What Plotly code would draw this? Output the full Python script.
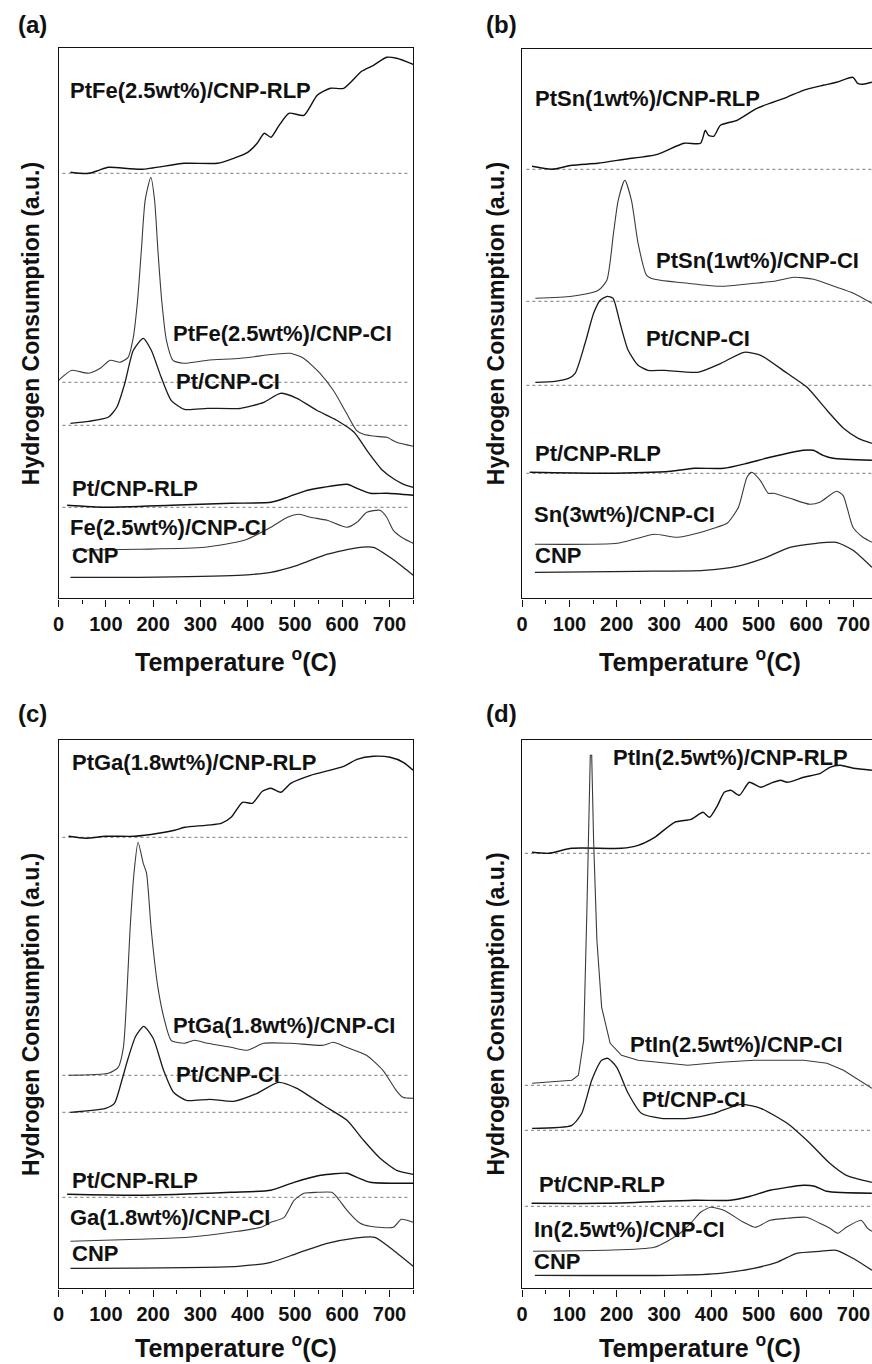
import plotly.graph_objects as go

# ---------------- data (temperature in °C, signal in a.u.) ----------------
# panel (a)
a_rlp_T = [25, 45, 64, 85, 105, 175, 266, 336, 370, 400, 420, 435, 449, 465, 487, 519, 547, 575, 603, 641, 666, 694, 715, 750]
a_rlp_H = [426, 425, 425, 428, 431, 429, 435, 435, 440, 446, 455, 465, 461, 472, 485, 483, 503, 510, 510, 527, 533, 541, 540, 534]
a_ci_T = [0, 28, 63, 88, 109, 130, 147, 158, 167, 175, 183, 195, 203, 210, 218, 228, 242, 266, 315, 385, 455, 490, 518, 553, 581, 609, 630, 645, 670, 694, 715, 750]
a_ci_H = [218, 228, 225, 230, 238, 236, 241, 261, 298, 348, 398, 421, 398, 348, 298, 258, 238, 235, 238, 240, 244, 245, 240, 225, 208, 185, 168, 164, 162, 161, 156, 152]
a_pt_T = [25, 64, 105, 123, 140, 158, 179, 196, 217, 238, 266, 315, 385, 434, 469, 504, 546, 588, 625, 655, 685, 710, 730, 750]
a_pt_H = [175, 177, 181, 191, 215, 248, 260, 248, 221, 198, 189, 190, 190, 196, 205, 200, 188, 178, 166, 146, 128, 119, 114, 111]
a_ptrlp_T = [18, 99, 239, 365, 449, 484, 519, 561, 610, 631, 659, 694, 750]
a_ptrlp_H = [93, 91, 93, 95, 96, 101, 107, 111, 114, 110, 105, 105, 103]
a_fe_T = [29, 169, 309, 393, 449, 484, 508, 533, 568, 610, 631, 652, 680, 694, 708, 729, 750]
a_fe_H = [48, 49, 51, 58, 71, 81, 84, 81, 78, 71, 76, 86, 88, 81, 68, 60, 55]
a_cnp_T = [25, 169, 379, 449, 505, 561, 624, 666, 701, 729, 750]
a_cnp_H = [21, 21, 23, 26, 33, 43, 50, 51, 41, 31, 23]
a_base = [425, 216, 173, 91]

# panel (b)
b_rlp_T = [21, 63, 105, 160, 216, 286, 342, 377, 387, 394, 405, 419, 454, 496, 559, 594, 636, 664, 699, 709, 720, 739]
b_rlp_H = [432, 429, 433, 435, 439, 444, 455, 455, 468, 463, 462, 473, 478, 490, 501, 508, 513, 516, 521, 515, 514, 516]
b_ci_T = [28, 105, 161, 179, 193, 203, 217, 231, 245, 263, 280, 350, 420, 490, 532, 574, 616, 665, 700, 739]
b_ci_H = [300, 302, 308, 318, 365, 398, 418, 398, 355, 323, 319, 315, 312, 315, 317, 321, 319, 311, 305, 295]
b_pt_T = [28, 69, 98, 112, 133, 151, 165, 180, 192, 207, 224, 245, 266, 301, 371, 420, 469, 504, 560, 602, 644, 679, 710, 739]
b_pt_H = [216, 217, 220, 225, 255, 285, 298, 302, 300, 275, 248, 233, 228, 228, 226, 235, 246, 243, 225, 211, 188, 170, 160, 155]
b_ptrlp_T = [16, 174, 314, 363, 426, 475, 524, 594, 615, 636, 657, 739]
b_ptrlp_H = [126, 125, 127, 130, 130, 135, 141, 148, 148, 143, 140, 138]
b_sn_T = [27, 202, 244, 279, 328, 370, 405, 433, 457, 475, 485, 503, 520, 531, 566, 608, 629, 664, 678, 699, 720, 739]
b_sn_H = [54, 55, 60, 64, 61, 65, 70, 75, 91, 121, 126, 118, 105, 105, 100, 94, 96, 107, 103, 71, 61, 56]
b_cnp_T = [27, 244, 384, 454, 510, 566, 622, 664, 699, 739]
b_cnp_H = [26, 27, 28, 32, 40, 51, 55, 56, 48, 31]
b_base = [429, 297, 213, 125]

# panel (c)
c_rlp_T = [21, 57, 99, 161, 211, 245, 267, 344, 365, 389, 410, 431, 449, 470, 491, 533, 603, 631, 666, 701, 729, 750]
c_rlp_H = [452, 450, 452, 452, 455, 458, 461, 465, 471, 486, 485, 497, 500, 496, 505, 513, 522, 529, 532, 531, 526, 518]
c_ci_T = [21, 105, 126, 137, 144, 151, 160, 168, 179, 186, 196, 210, 224, 238, 266, 287, 315, 364, 399, 434, 490, 560, 581, 609, 651, 686, 714, 728, 750]
c_ci_H = [213, 215, 221, 241, 291, 358, 418, 446, 425, 415, 358, 301, 268, 248, 245, 248, 245, 241, 238, 245, 245, 243, 246, 241, 233, 218, 198, 191, 190]
c_pt_T = [25, 99, 118, 132, 147, 163, 180, 200, 222, 243, 270, 320, 370, 420, 465, 504, 560, 610, 645, 680, 715, 750]
c_pt_H = [176, 180, 185, 205, 230, 252, 262, 250, 218, 196, 188, 189, 187, 195, 206, 200, 183, 168, 148, 130, 118, 114]
c_ptrlp_T = [18, 169, 365, 449, 498, 554, 610, 631, 659, 750]
c_ptrlp_H = [94, 93, 96, 98, 106, 113, 115, 111, 106, 105]
c_ga_T = [25, 169, 274, 379, 428, 449, 477, 498, 519, 547, 578, 589, 610, 638, 659, 708, 725, 750]
c_ga_H = [47, 49, 51, 57, 61, 66, 71, 88, 95, 96, 96, 91, 78, 65, 62, 61, 69, 66]
c_cnp_T = [25, 379, 449, 505, 568, 624, 669, 708, 750]
c_cnp_H = [20, 22, 26, 35, 45, 50, 51, 38, 22]
c_base = [451, 213, 176, 91]

# panel (d)
d_rlp_T = [21, 56, 105, 210, 245, 280, 322, 357, 382, 396, 413, 427, 441, 459, 480, 504, 525, 546, 560, 595, 630, 650, 672, 700, 739]
d_rlp_H = [436, 435, 440, 440, 443, 451, 466, 469, 476, 471, 483, 496, 498, 493, 506, 501, 505, 508, 506, 511, 515, 521, 523, 520, 518]
d_ci_T = [21, 105, 119, 130, 137, 142, 144, 147, 151, 158, 168, 186, 210, 245, 350, 420, 490, 595, 644, 679, 713, 739]
d_ci_H = [205, 208, 213, 248, 381, 498, 533, 533, 448, 348, 281, 245, 233, 228, 223, 226, 228, 228, 225, 218, 208, 200]
d_pt_T = [21, 105, 126, 147, 168, 181, 200, 224, 252, 294, 350, 406, 462, 504, 560, 608, 650, 685, 739]
d_pt_H = [160, 163, 175, 208, 228, 230, 221, 195, 175, 170, 170, 175, 184, 180, 165, 145, 125, 113, 106]
d_ptrlp_T = [20, 174, 363, 440, 482, 524, 594, 618, 643, 739]
d_ptrlp_H = [85, 85, 88, 88, 92, 98, 103, 102, 97, 95]
d_in_T = [23, 174, 279, 328, 356, 377, 398, 426, 468, 492, 524, 559, 601, 629, 650, 667, 685, 716, 730, 739]
d_in_H = [37, 38, 41, 53, 65, 76, 81, 78, 66, 61, 68, 70, 71, 65, 60, 55, 61, 68, 60, 57]
d_cnp_T = [27, 314, 419, 489, 538, 580, 629, 664, 699, 739]
d_cnp_H = [13, 13, 15, 20, 26, 35, 37, 38, 30, 18]
d_base = [435, 203, 158, 82]

# curve labels
a_labels = ["PtFe(2.5wt%)/CNP-RLP", "PtFe(2.5wt%)/CNP-CI", "Pt/CNP-CI", "Pt/CNP-RLP", "Fe(2.5wt%)/CNP-CI", "CNP"]
b_labels = ["PtSn(1wt%)/CNP-RLP", "PtSn(1wt%)/CNP-CI", "Pt/CNP-CI", "Pt/CNP-RLP", "Sn(3wt%)/CNP-CI", "CNP"]
c_labels = ["PtGa(1.8wt%)/CNP-RLP", "PtGa(1.8wt%)/CNP-CI", "Pt/CNP-CI", "Pt/CNP-RLP", "Ga(1.8wt%)/CNP-CI", "CNP"]
d_labels = ["PtIn(2.5wt%)/CNP-RLP", "PtIn(2.5wt%)/CNP-CI", "Pt/CNP-CI", "Pt/CNP-RLP", "In(2.5wt%)/CNP-CI", "CNP"]

# ---------------- layout geometry ----------------
W, H = 872, 1364
FONT = "Liberation Sans, Arial, Helvetica, sans-serif"

def px_x(p):
    return p / W

def px_y(p):
    return 1 - p / H

panels = [
    dict(name="a", sfx="", curves=[(a_rlp_T, a_rlp_H), (a_ci_T, a_ci_H), (a_pt_T, a_pt_H),
                                   (a_ptrlp_T, a_ptrlp_H), (a_fe_T, a_fe_H), (a_cnp_T, a_cnp_H)],
         base=a_base, labels=a_labels,
         lpos=[(20, 508), (237, 265), (245, 217), (24, 110), (20, 71), (24, 43)],
         xd=(53, 410), yd=(48.3, 598.3), xr=750, yr=550, left=True, bstart=8, bend=742, ttl=660),
    dict(name="b", sfx="2", curves=[(b_rlp_T, b_rlp_H), (b_ci_T, b_ci_H), (b_pt_T, b_pt_H),
                                    (b_ptrlp_T, b_ptrlp_H), (b_sn_T, b_sn_H), (b_cnp_T, b_cnp_H)],
         base=b_base, labels=b_labels,
         lpos=[(24, 500), (279, 338), (258, 260), (22, 145), (20, 84), (24, 43)],
         xd=(519.7, 872), yd=(48.8, 598.3), xr=739.2, yr=549.5, left=False, bstart=9, bend=750, ttl=660),
    dict(name="c", sfx="3", curves=[(c_rlp_T, c_rlp_H), (c_ci_T, c_ci_H), (c_pt_T, c_pt_H),
                                    (c_ptrlp_T, c_ptrlp_H), (c_ga_T, c_ga_H), (c_cnp_T, c_cnp_H)],
         base=c_base, labels=c_labels,
         lpos=[(24, 526), (237, 263), (245, 214), (24, 108), (20, 71), (24, 35)],
         xd=(53, 410), yd=(740, 1288.3), xr=750, yr=548.3, left=True, bstart=8, bend=742, ttl=1346),
    dict(name="d", sfx="4", curves=[(d_rlp_T, d_rlp_H), (d_ci_T, d_ci_H), (d_pt_T, d_pt_H),
                                    (d_ptrlp_T, d_ptrlp_H), (d_in_T, d_in_H), (d_cnp_T, d_cnp_H)],
         base=d_base, labels=d_labels,
         lpos=[(188, 531), (223, 244), (248, 189), (31, 104), (20, 59), (20, 27)],
         xd=(519.7, 872), yd=(739.5, 1288.3), xr=739.2, yr=548.8, left=False, bstart=6, bend=750, ttl=1346),
]

# style per curve index (RLP, CI, Pt-CI, Pt-RLP, M-CI, CNP)
styles = [("#111111", 1.4), ("#3a3a3a", 1.1), ("#1a1a1a", 1.3),
          ("#111111", 1.4), ("#3a3a3a", 1.1), ("#222222", 1.3)]

fig = go.Figure()
annotations = []
layout_axes = {}

for p in panels:
    xa = "x" + p["sfx"]
    ya = "y" + p["sfx"]
    # dotted baselines
    for b in p["base"]:
        fig.add_trace(go.Scatter(x=[p["bstart"], p["bend"]], y=[b, b], mode="lines",
                                 xaxis=xa, yaxis=ya, showlegend=False, hoverinfo="skip",
                                 line=dict(color="#7a7a7a", width=1, dash="dot")))
    for i, (tx, hy) in enumerate(p["curves"]):
        col, w = styles[i]
        shape = "linear" if (p["name"] == "d" and i == 1) else "spline"
        fig.add_trace(go.Scatter(x=tx, y=hy, mode="lines", xaxis=xa, yaxis=ya, showlegend=False,
                                 line=dict(color=col, width=w, shape=shape, smoothing=0.6)))
    for lab, (lx, ly) in zip(p["labels"], p["lpos"]):
        annotations.append(dict(x=lx, y=ly, xref=xa, yref=ya, text=lab, showarrow=False,
                                xanchor="left", yanchor="middle",
                                font=dict(family=FONT, size=22, color="#111", weight="bold")))
    xl, xrpx = p["xd"]
    yt, yb = p["yd"]
    key = "" if p["sfx"] == "" else p["sfx"]
    layout_axes["xaxis" + key] = dict(
        domain=[px_x(xl), px_x(xrpx)], range=[0, p["xr"]], anchor=ya,
        tick0=0, dtick=100, ticks="outside", ticklen=7, tickwidth=1.3, tickcolor="#111",
        minor=dict(dtick=50, ticks="outside", ticklen=4, tickwidth=1.1, tickcolor="#111"),
        showline=True, linecolor="#111", linewidth=1.4, mirror=True,
        showgrid=False, zeroline=False,
        tickfont=dict(family=FONT, size=20, color="#111", weight="bold"),
    )
    layout_axes["yaxis" + key] = dict(
        domain=[px_y(yb), px_y(yt)], range=[0, p["yr"]], anchor=xa,
        showticklabels=False, ticks="", showgrid=False, zeroline=False,
        showline=True, linecolor="#111", linewidth=1.4, mirror=p["left"],
    )
    # axis titles
    xcenter = xl + 0.4766 * 375 if not p["left"] else (xl + xrpx) / 2
    annotations.append(dict(x=px_x(xcenter), y=px_y(p["ttl"]), xref="paper", yref="paper",
                            text="Temperature <sup>o</sup>(C)", showarrow=False,
                            xanchor="center", yanchor="middle",
                            font=dict(family=FONT, size=25, color="#111", weight="bold")))
    ytx = 25 if p["left"] else 493
    annotations.append(dict(x=px_x(ytx), y=px_y((yt + yb) / 2), xref="paper", yref="paper",
                            text="Hydrogen Consumption (a.u.)", textangle=-90, showarrow=False,
                            xanchor="center", yanchor="middle",
                            font=dict(family=FONT, size=23, color="#111", weight="bold")))
    plx = 10 if p["left"] else 481
    ply = 25 if p["name"] in ("a", "b") else 713
    annotations.append(dict(x=px_x(plx), y=px_y(ply), xref="paper", yref="paper",
                            text="(" + p["name"] + ")", showarrow=False,
                            xanchor="left", yanchor="middle",
                            font=dict(family=FONT, size=24, color="#111", weight="bold")))

fig.update_layout(
    width=W, height=H, margin=dict(l=0, r=0, t=0, b=0),
    paper_bgcolor="white", plot_bgcolor="white",
    annotations=annotations, showlegend=False,
    **layout_axes,
)

fig.write_html("out.html")
